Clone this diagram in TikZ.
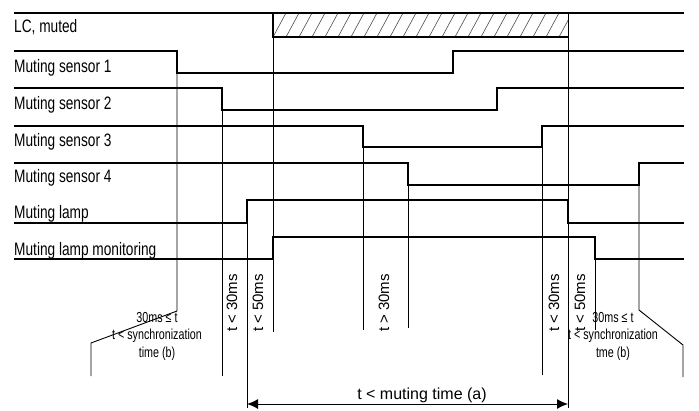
\documentclass[tikz,border=0pt]{standalone}
\usepackage{fontspec}
\setmainfont{Liberation Sans}
\newfontfamily\condfont[FakeStretch=0.76]{Liberation Sans}
\newfontfamily\narrowfont[FakeStretch=0.74]{Liberation Sans}
\usetikzlibrary{arrows.meta}

\tikzset{
    signal/.style={line width=2pt, line join=miter},
    marker/.style={line width=0.9pt},
    hatchline/.style={line width=0.6pt, black!70},
    timearrow/.style={line width=1pt, {Latex[length=11pt,width=10pt]}-{Latex[length=11pt,width=10pt]}},
    rowlabel/.style={anchor=base west, inner sep=0pt, font=\condfont\fontsize{18}{20}\selectfont},
    timelabel/.style={rotate=90, inner sep=0pt, font=\fontsize{15}{17}\selectfont},
    note/.style={align=center, inner sep=0pt, font=\narrowfont\fontsize{14.5}{17.5}\selectfont},
}

\begin{document}
\begin{tikzpicture}[x=1pt, y=-1pt]
    \useasboundingbox (0,0) rectangle (699,410);

    \def\xleft{14}
    \def\xright{684}

    % hatched muting window
    \begin{scope}
        \clip (273,13) rectangle (568,37);
        \foreach \x in {260,273,...,572}
        {
            \draw[hatchline] (\x,37) -- ({\x+13},13);
        }
    \end{scope}
    \draw[signal] (\xleft,13) -- (\xright,13);
    \draw[signal] (273,13) -- (273,37) -- (568,37);

    % signal rows: level, other level, first edge, second edge
    \foreach \ya/\yb/\xa/\xb in {
        51/73/177/453,
        88/110/222/497,
        126/147/363/542,
        163/185/408/639,
        223/200/247/568,
        259/237/273/595}
    {
        \draw[signal] (\xleft,\ya) -- (\xa,\ya) -- (\xa,\yb) -- (\xb,\yb) -- (\xb,\ya) -- (\xright,\ya);
    }

    % row names
    \foreach \row/\yb/\txt in {
        lc/32/{LC, muted},
        sone/72/{Muting sensor 1},
        stwo/109/{Muting sensor 2},
        sthree/146/{Muting sensor 3},
        sfour/182/{Muting sensor 4},
        lamp/218/{Muting lamp},
        lampmon/255/{Muting lamp monitoring}}
    {
        \node[rowlabel] (\row) at (\xleft,\yb) {\txt};
    }

    % time markers
    \draw[marker] (177,73) -- (177,311) -- (91,343) -- (91,376);
    \draw[marker] (222,110) -- (222,376);
    \draw[marker] (247,223) -- (247,408);
    \draw[marker] (273,37) -- (273,332);
    \draw[marker] (363,147) -- (363,330);
    \draw[marker] (408,185) -- (408,328);
    \draw[marker] (542,147) -- (542,375);
    \draw[marker] (568,13) -- (568,408);
    \draw[marker] (595,259) -- (595,330);
    \draw[marker] (639,185) -- (639,310) -- (683,345) -- (683,377);

    % rotated delays
    \foreach \tl/\x/\txt in {
        ta/232/{t < 30ms},
        tb/258/{t < 50ms},
        tc/384/{t > 30ms},
        td/554/{t < 30ms},
        te/580/{t < 50ms}}
    {
        \node[timelabel] (\tl) at (\x,303) {\txt};
    }

    % synchronization notes
    \node[note, anchor=base] (syncleft) at (157,357) {30ms ≤ t\\t < synchronization\\time (b)};
    \node[note, anchor=base] (syncright) at (613,357) {30ms ≤ t\\t < synchronization\\tme (b)};

    % muting time
    \coordinate (mstart) at (247,404);
    \coordinate (mend) at (568,404);
    \draw[timearrow] (mstart) -- (mend);
    \node[anchor=base, inner sep=0pt, font=\fontsize{16}{18}\selectfont] (mutetime) at (422,399) {t < muting time (a)};
\end{tikzpicture}
\end{document}
